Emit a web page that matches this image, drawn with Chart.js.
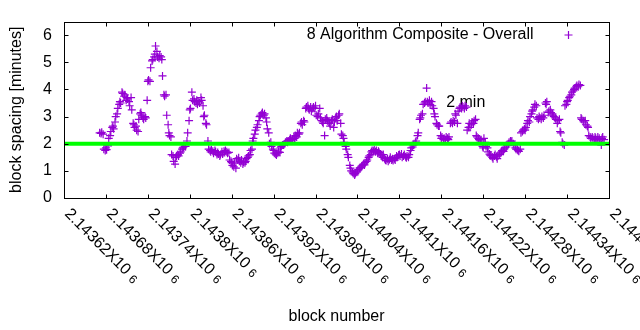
<!DOCTYPE html>
<html>
<head>
<meta charset="utf-8">
<script src="https://cdn.jsdelivr.net/npm/chart.js@4.4.1/dist/chart.umd.min.js"></script>
<style>
  html, body { margin: 0; padding: 0; background: #fff; }
</style>
</head>
<body>
<canvas id="chart" width="640" height="330"></canvas>
<script>
/* ── Data ─────────────────────────────────────── */
const blocks = [
    2143671, 2143673, 2143674, 2143676, 2143677, 2143679,
    2143680, 2143681, 2143683, 2143684, 2143686, 2143687, 2143689,
    2143690, 2143691, 2143693, 2143694, 2143696, 2143697, 2143699,
    2143700, 2143701, 2143703, 2143704, 2143706, 2143707, 2143709,
    2143710, 2143711, 2143713, 2143714, 2143716, 2143717, 2143719,
    2143720, 2143721, 2143723, 2143724, 2143726, 2143727, 2143729,
    2143730, 2143731, 2143733, 2143734, 2143736, 2143737, 2143739,
    2143740, 2143741, 2143743, 2143744, 2143746, 2143747, 2143749,
    2143750, 2143751, 2143753, 2143754, 2143756, 2143757, 2143759,
    2143760, 2143761, 2143763, 2143764, 2143766, 2143767, 2143769,
    2143770, 2143771, 2143773, 2143774, 2143776, 2143777, 2143779,
    2143780, 2143781, 2143783, 2143784, 2143786, 2143787, 2143789,
    2143790, 2143791, 2143793, 2143794, 2143796, 2143797, 2143799,
    2143800, 2143801, 2143803, 2143804, 2143806, 2143807, 2143809,
    2143810, 2143811, 2143813, 2143814, 2143816, 2143817, 2143819,
    2143820, 2143821, 2143823, 2143824, 2143826, 2143827, 2143829,
    2143830, 2143831, 2143833, 2143834, 2143836, 2143837, 2143839,
    2143840, 2143841, 2143843, 2143844, 2143846, 2143847, 2143849,
    2143850, 2143851, 2143853, 2143854, 2143856, 2143857, 2143859,
    2143860, 2143861, 2143863, 2143864, 2143866, 2143867, 2143869,
    2143870, 2143871, 2143873, 2143874, 2143876, 2143877, 2143879,
    2143880, 2143881, 2143883, 2143884, 2143886, 2143887, 2143889,
    2143890, 2143891, 2143893, 2143894, 2143896, 2143897, 2143899,
    2143900, 2143901, 2143903, 2143904, 2143906, 2143907, 2143909,
    2143910, 2143911, 2143913, 2143914, 2143916, 2143917, 2143919,
    2143920, 2143921, 2143923, 2143924, 2143926, 2143927, 2143929,
    2143930, 2143931, 2143933, 2143934, 2143936, 2143937, 2143939,
    2143940, 2143941, 2143943, 2143944, 2143946, 2143947, 2143949,
    2143950, 2143951, 2143953, 2143954, 2143956, 2143957, 2143959,
    2143960, 2143961, 2143963, 2143964, 2143966, 2143967, 2143969,
    2143970, 2143971, 2143973, 2143974, 2143976, 2143977, 2143979,
    2143980, 2143981, 2143983, 2143984, 2143986, 2143987, 2143989,
    2143990, 2143991, 2143993, 2143994, 2143996, 2143997, 2143999,
    2144000, 2144001, 2144003, 2144004, 2144006, 2144007, 2144009,
    2144010, 2144011, 2144013, 2144014, 2144016, 2144017, 2144019,
    2144020, 2144021, 2144023, 2144024, 2144026, 2144027, 2144029,
    2144030, 2144031, 2144033, 2144034, 2144036, 2144037, 2144039,
    2144040, 2144041, 2144043, 2144044, 2144046, 2144047, 2144049,
    2144050, 2144051, 2144053, 2144054, 2144056, 2144057, 2144059,
    2144060, 2144061, 2144063, 2144064, 2144066, 2144067, 2144069,
    2144070, 2144071, 2144073, 2144074, 2144076, 2144077, 2144079,
    2144080, 2144081, 2144083, 2144084, 2144086, 2144087, 2144089,
    2144090, 2144091, 2144093, 2144094, 2144096, 2144097, 2144099,
    2144100, 2144101, 2144103, 2144104, 2144106, 2144107, 2144109,
    2144110, 2144111, 2144113, 2144114, 2144116, 2144117, 2144119,
    2144120, 2144121, 2144123, 2144124, 2144126, 2144127, 2144129,
    2144130, 2144131, 2144133, 2144134, 2144136, 2144137, 2144139,
    2144140, 2144141, 2144143, 2144144, 2144146, 2144147, 2144149,
    2144150, 2144151, 2144153, 2144154, 2144156, 2144157, 2144159,
    2144160, 2144161, 2144163, 2144164, 2144166, 2144167, 2144169,
    2144170, 2144171, 2144173, 2144174, 2144176, 2144177, 2144179,
    2144180, 2144181, 2144183, 2144184, 2144186, 2144187, 2144189,
    2144190, 2144191, 2144193, 2144194, 2144196, 2144197, 2144199,
    2144200, 2144201, 2144203, 2144204, 2144206, 2144207, 2144209,
    2144210, 2144211, 2144213, 2144214, 2144216, 2144217, 2144219,
    2144220, 2144221, 2144223, 2144224, 2144226, 2144227, 2144229,
    2144230, 2144231, 2144233, 2144234, 2144236, 2144237, 2144239,
    2144240, 2144241, 2144243, 2144244, 2144246, 2144247, 2144249,
    2144250, 2144251, 2144253, 2144254, 2144256, 2144257, 2144259,
    2144260, 2144261, 2144263, 2144264, 2144266, 2144267, 2144269,
    2144270, 2144271, 2144273, 2144274, 2144276, 2144277, 2144279,
    2144280, 2144281, 2144283, 2144284, 2144286, 2144287, 2144289,
    2144290, 2144291, 2144293, 2144294, 2144296, 2144297, 2144299,
    2144300, 2144301, 2144303, 2144304, 2144306, 2144307, 2144309,
    2144310, 2144311, 2144313, 2144314, 2144316, 2144317, 2144319,
    2144320, 2144321, 2144323, 2144324, 2144326, 2144327, 2144329,
    2144330, 2144331, 2144333, 2144334, 2144336, 2144337, 2144339,
    2144340, 2144341, 2144343, 2144344, 2144346, 2144347, 2144349,
    2144350, 2144351, 2144353, 2144354, 2144356, 2144357, 2144359,
    2144360, 2144361, 2144363, 2144364, 2144366, 2144367, 2144369,
    2144370, 2144371, 2144373, 2144374, 2144376, 2144377, 2144379,
    2144380, 2144381, 2144383, 2144384, 2144386, 2144387, 2144389,
    2144390, 2144391, 2144393,
];

// minutes between blocks
const spacing = [
    2.40, 2.38, 2.42, 2.35, 1.80, 1.75,
    1.85, 1.78, 1.92, 2.20, 2.30, 2.45, 2.60,
    2.65, 2.55, 2.80, 3.00, 3.10, 3.30, 3.45,
    3.55, 3.50, 3.90, 3.85, 3.75, 3.80, 3.60,
    3.70, 3.65, 3.55, 3.40, 3.70, 3.25, 2.75,
    2.70, 2.60, 2.65, 2.50, 2.45, 2.90, 3.10,
    3.15, 3.05, 2.95, 2.90, 3.00, 2.95, 3.60,
    4.30, 4.35, 4.30, 4.80, 5.05, 5.10, 5.20,
    5.30, 5.60, 5.40, 5.20, 5.15, 5.25, 5.20,
    5.10, 4.50, 3.80, 3.75, 3.80, 3.05, 2.70,
    2.40, 2.30, 2.25, 1.60, 1.55, 1.35, 1.25,
    1.50, 1.55, 1.60, 1.55, 1.65, 1.70, 1.80,
    1.85, 1.88, 1.90, 1.90, 2.10, 2.40, 2.85,
    3.25, 3.30, 3.90, 3.60, 3.65, 3.55, 3.50,
    3.60, 3.45, 3.55, 3.50, 3.70, 3.60, 3.40,
    3.00, 3.05, 2.75, 2.70, 2.10, 1.80, 1.75,
    1.70, 1.78, 1.72, 1.65, 1.75, 1.70, 1.60,
    1.68, 1.62, 1.55, 1.60, 1.70, 1.62, 1.72,
    1.68, 1.75, 1.70, 1.65, 1.68, 1.40, 1.35,
    1.30, 1.20, 1.15, 1.28, 1.10, 1.45, 1.40,
    1.48, 1.35, 1.30, 1.40, 1.25, 1.32, 1.30,
    1.35, 1.45, 1.50, 1.55, 1.60, 1.75, 1.80,
    2.10, 2.20, 2.35, 2.50, 2.60, 2.70, 2.85,
    3.00, 3.05, 3.10, 3.15, 3.05, 3.10, 2.95,
    2.80, 2.55, 2.40, 2.00, 2.05, 1.90, 1.80,
    1.75, 1.65, 1.62, 1.58, 1.65, 1.70, 1.68,
    1.85, 1.90, 1.95, 1.95, 2.00, 2.05, 2.10,
    2.05, 2.10, 2.15, 2.20, 2.10, 2.15, 2.25,
    2.20, 2.30, 2.25, 2.40, 2.35, 2.40, 2.75,
    2.80, 2.70, 2.85, 2.80, 3.30, 3.35, 3.40,
    3.30, 3.25, 3.35, 3.20, 3.30, 3.35, 3.30,
    3.40, 3.05, 3.00, 3.10, 3.30, 2.95, 2.85,
    2.80, 2.75, 2.30, 2.90, 2.95, 2.85, 2.80,
    2.75, 2.65, 2.85, 2.90, 2.60, 2.80, 2.95,
    3.00, 2.85, 3.05, 3.10, 2.75, 2.35, 2.30,
    2.20, 2.05, 1.90, 1.80, 1.60, 1.50, 1.20,
    1.10, 1.00, 0.95, 0.90, 0.85, 0.90, 0.95,
    1.00, 1.05, 1.10, 1.12, 1.15, 1.20, 1.25,
    1.22, 1.30, 1.35, 1.40, 1.50, 1.55, 1.60,
    1.70, 1.75, 1.72, 1.78, 1.70, 1.75, 1.65,
    1.72, 1.68, 1.62, 1.55, 1.50, 1.60, 1.45,
    1.40, 1.38, 1.45, 1.35, 1.42, 1.50, 1.40,
    1.45, 1.38, 1.45, 1.40, 1.55, 1.50, 1.58,
    1.60, 1.55, 1.62, 1.50, 1.55, 1.60, 1.52,
    1.48, 1.55, 1.50, 1.60, 1.75, 1.85, 1.88,
    1.95, 2.00, 2.05, 2.10, 2.30, 2.40, 2.90,
    2.95, 3.05, 3.10, 3.45, 3.50, 3.55, 4.05,
    3.55, 3.50, 3.60, 3.45, 3.55, 3.40, 3.30,
    3.10, 3.00, 2.75, 2.70, 2.65, 2.65, 2.30,
    2.20, 2.25, 2.15, 2.20, 2.15, 2.25, 2.20,
    2.15, 2.25, 2.75, 2.80, 2.75, 2.85, 2.80,
    3.10, 3.05, 2.75, 3.20, 3.30, 3.35, 3.30,
    3.40, 3.35, 3.30, 3.40, 3.35, 2.50, 2.60,
    2.75, 2.60, 2.70, 2.80, 2.75, 2.85, 2.90,
    2.30, 2.25, 2.20, 2.15, 2.10, 2.15, 1.90,
    1.85, 2.20, 2.05, 1.90, 1.85, 1.70, 1.62,
    1.58, 1.55, 1.50, 1.45, 1.55, 1.60, 1.52,
    1.45, 1.55, 1.60, 1.65, 1.70, 1.75, 1.72,
    1.80, 1.85, 1.88, 1.95, 2.00, 2.05, 2.10,
    2.05, 2.10, 2.00, 1.95, 1.85, 1.80, 1.78,
    1.75, 1.72, 1.80, 2.40, 2.45, 2.50, 2.55,
    2.50, 2.60, 2.75, 2.85, 2.80, 3.00, 3.10,
    3.20, 3.25, 3.35, 3.45, 3.40, 2.95, 2.90,
    3.00, 2.95, 2.90, 3.00, 2.95, 3.05, 3.50,
    3.45, 3.55, 3.15, 3.20, 3.25, 3.15, 3.10,
    3.05, 3.00, 2.95, 2.90, 2.75, 2.85, 2.90,
    2.45, 2.40, 2.05, 2.00, 1.95, 3.40, 3.45,
    3.55, 3.60, 3.70, 3.75, 3.80, 3.90, 3.95,
    4.00, 4.05, 4.10, 4.15, 4.10, 4.18, 4.15,
    2.95, 2.90, 2.85, 2.80, 2.85, 2.70, 2.65,
    2.60, 2.30, 2.25, 2.20, 2.25, 2.20, 2.15,
    2.25, 2.20, 2.15, 2.25, 2.20, 2.10, 1.95,
    2.20, 2.25, 2.15,
];

const xTicks = [2143620, 2143680, 2143740, 2143800, 2143860, 2143920, 2143980,
    2144040, 2144100, 2144160, 2144220, 2144280, 2144340, 2144400];
const xTickLabels = ['2.14362', '2.14368', '2.14374', '2.1438', '2.14386', '2.14392', '2.14398',
    '2.14404', '2.1441', '2.14416', '2.14422', '2.14428', '2.14434', '2.1444'];
const yTicks = [0, 1, 2, 3, 4, 5, 6];

const targetLine = [2, 2];           // the 2 minute target, at both ends of the x range
const seriesTitle = '8 Algorithm Composite - Overall';
const targetTitle = '2 min';
const targetTitleAt = [2144167, 3.53];

const FONT = '"Liberation Sans", Arial, sans-serif';
const PURPLE = '#9400d3';

/* ── Frame, ticks, rotated labels, key ─────────── */
const gnuplotLook = {
    id: 'gnuplotLook',
    beforeDatasetsDraw(chart) {
        const { ctx, scales: { x, y } } = chart;
        ctx.save();
        ctx.font = '16px ' + FONT;
        ctx.fillStyle = '#000';
        ctx.textBaseline = 'middle';
        ctx.fillText(targetTitle, x.getPixelForValue(targetTitleAt[0]), y.getPixelForValue(targetTitleAt[1]));
        ctx.restore();
    },
    afterDraw(chart) {
        const { ctx, chartArea: a, scales: { x, y } } = chart;
        const L = Math.round(a.left) + 0.5, R = Math.round(a.right) + 0.5;
        const T = Math.round(a.top) + 0.5, B = Math.round(a.bottom) + 0.5;
        ctx.save();

        // border + inward ticks on all sides
        ctx.strokeStyle = '#000';
        ctx.lineWidth = 1;
        ctx.strokeRect(L, T, R - L, B - T);
        ctx.beginPath();
        xTicks.forEach((v) => {
            const px = Math.round(x.getPixelForValue(v)) + 0.5;
            ctx.moveTo(px, B); ctx.lineTo(px, B - 4);
            ctx.moveTo(px, T); ctx.lineTo(px, T + 4);
        });
        yTicks.forEach((v) => {
            const py = Math.round(y.getPixelForValue(v)) + 0.5;
            ctx.moveTo(L, py); ctx.lineTo(L + 4, py);
            ctx.moveTo(R, py); ctx.lineTo(R - 4, py);
        });
        ctx.stroke();

        // rotated x tick labels
        ctx.fillStyle = '#000';
        ctx.textBaseline = 'middle';
        ctx.textAlign = 'left';
        xTicks.forEach((v, i) => {
            const px = x.getPixelForValue(v);
            ctx.save();
            ctx.translate(px + 3, B + 13);
            ctx.rotate(Math.PI / 4);
            ctx.font = '16px ' + FONT;
            const txt = xTickLabels[i] + 'X10';
            ctx.fillText(txt, 0, 0);
            const w = ctx.measureText(txt).width;
            ctx.font = '12px ' + FONT;
            ctx.fillText('6', w + 5, 2);
            ctx.restore();
        });

        // key
        const ky = T + 12.5;
        ctx.font = '16px ' + FONT;
        ctx.textAlign = 'right';
        ctx.fillText(seriesTitle, R - 76, ky);
        const kx = Math.round(R - 42) + 0.5;
        ctx.strokeStyle = PURPLE;
        ctx.lineWidth = 1.2;
        ctx.beginPath();
        ctx.moveTo(kx - 4, ky); ctx.lineTo(kx + 4, ky);
        ctx.moveTo(kx, ky - 4); ctx.lineTo(kx, ky + 4);
        ctx.stroke();

        ctx.restore();
    },
};

const points = blocks.map((b, i) => ({ x: b, y: spacing[i] }));
const target = [
    { x: xTicks[0], y: targetLine[0] },
    { x: xTicks[xTicks.length - 1], y: targetLine[1] },
];

new Chart(document.getElementById('chart').getContext('2d'), {
    type: 'scatter',
    data: {
        datasets: [{
            type: 'line',
            label: targetTitle,
            data: target,
            borderColor: '#00ff00',
            borderWidth: 4,
            pointRadius: 0,
            order: 0,
        }, {
            label: seriesTitle,
            data: points,
            pointStyle: 'cross',
            pointRadius: 4,
            borderColor: PURPLE,
            borderWidth: 1.2,
            order: 1,
        }],
    },
    options: {
        responsive: false,
        animation: false,
        devicePixelRatio: 1,
        events: [],
        layout: {
            padding: { top: 19, right: 31, left: 0, bottom: 0 },
        },
        plugins: {
            legend: { display: false },
            tooltip: { enabled: false },
        },
        scales: {
            x: {
                type: 'linear',
                min: xTicks[0],
                max: xTicks[xTicks.length - 1],
                grid: { display: false },
                border: { display: false },
                ticks: { display: false },
                title: {
                    display: true,
                    text: 'block number',
                    color: '#000',
                    font: { family: FONT, size: 16 },
                    padding: { top: 0, bottom: 4 },
                },
                afterFit: (s) => { s.height = 132; },
            },
            y: {
                min: 0,
                max: 6.5,
                grid: { display: false, drawTicks: false },
                border: { display: false },
                ticks: {
                    stepSize: 1,
                    includeBounds: false,
                    color: '#000',
                    padding: 12,
                    font: { family: FONT, size: 16 },
                    callback: (v) => (yTicks.includes(v) ? String(v) : ''),
                },
                title: {
                    display: true,
                    text: 'block spacing [minutes]',
                    color: '#000',
                    font: { family: FONT, size: 16 },
                    padding: { top: 7, bottom: 0 },
                },
                afterFit: (s) => { s.width = 64; },
            },
        },
    },
    plugins: [gnuplotLook],
});
</script>
</body>
</html>
